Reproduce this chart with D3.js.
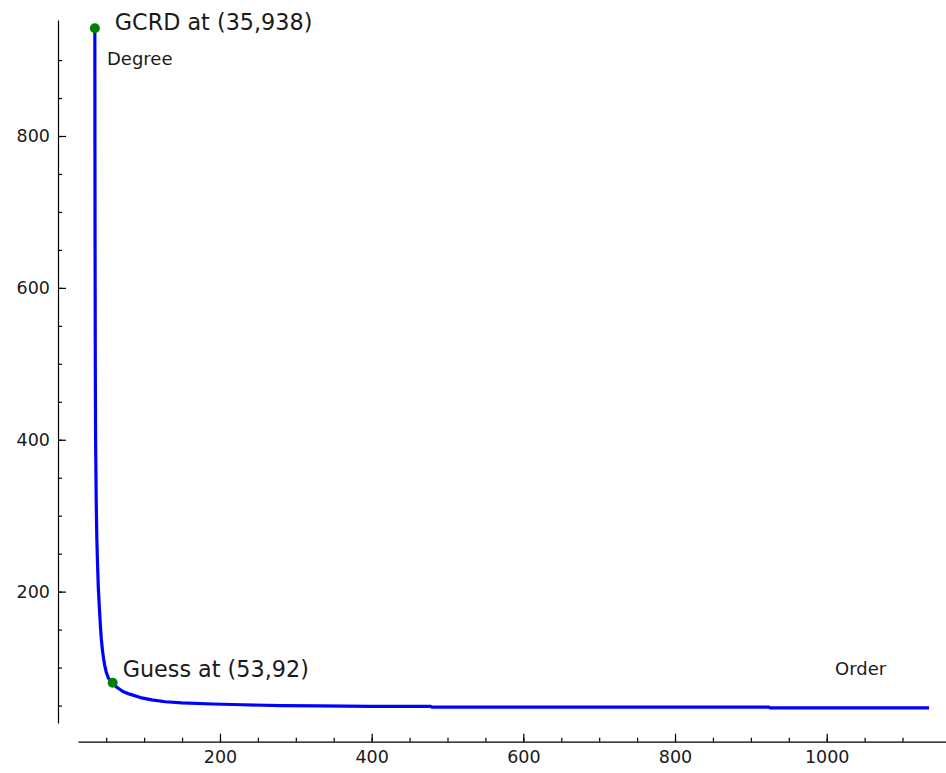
<!DOCTYPE html>
<html>
<head>
<meta charset="utf-8">
<script src="https://cdn.jsdelivr.net/npm/d3@7"></script>
<style>
  body { margin: 0; background: #fff; }
  svg text { font-family: "DejaVu Sans", sans-serif; fill: #1a1a1a; }
</style>
</head>
<body>
<figure id="plot" style="margin:0"></figure>
<script>
// order vs degree
const orders  = [35, 35.1, 35.3, 35.6, 36, 36.8, 37.6, 38.6, 39.6, 40.9, 42.2, 43.5, 45, 46.5, 48, 50, 53, 58, 64, 72, 81, 95, 110, 128, 150, 190, 230, 280, 330, 400, 478, 479, 924, 925, 1135];
const degrees = [942, 800, 650, 500, 400, 320, 270, 235, 205, 180, 157, 138, 123, 112, 103, 94, 86, 80, 74, 68.5, 65, 60.5, 57.5, 55, 53.5, 52, 51, 50, 49.5, 49, 49, 48, 48, 47, 47];

const markOrders  = [35, 58.5];
const markDegrees = [942, 80];
const markLabels  = ["GCRD at (35,938)", "Guess at (53,92)"];

const xMajor = [200, 400, 600, 800, 1000];
const xMinor = d3.range(50, 1101, 50);
const yMajor = [200, 400, 600, 800];
const yMinor = d3.range(50, 901, 50);

const width = 946, height = 773;
const labelShift = [[20, 2], [10, -6]];

const svg = d3.select("figure#plot")
  .append("svg")
  .attr("width", width)
  .attr("height", height);

const x = d3.scaleLinear().domain([0, 1000]).range([68.3, 826.7]);
const y = d3.scaleLinear().domain([0, 800]).range([743.5, 136]);

// axis scales: same mapping, trimmed to where the spines are drawn
const xAxisScale = x.copy().domain([x.invert(78), x.invert(946)]).range([78, 946]);
const yAxisScale = y.copy().domain([y.invert(723), y.invert(20)]).range([723, 20]);

// x axis
const gx = svg.append("g").attr("transform", "translate(0,741.7)");
gx.append("g")
  .call(d3.axisBottom(xAxisScale).tickValues(xMinor).tickFormat("").tickSizeInner(-4).tickSizeOuter(0))
  .call(g => g.select(".domain").remove());
gx.append("g")
  .call(d3.axisBottom(xAxisScale).tickValues(xMajor).tickFormat(d3.format("d")).tickSizeInner(-8).tickSizeOuter(0))
  .call(g => g.selectAll("text").attr("y", 21.6).attr("dy", 0).style("font-size", "17.5px"));

// y axis
const gy = svg.append("g").attr("transform", "translate(58,0)");
gy.append("g")
  .call(d3.axisLeft(yAxisScale).tickValues(yMinor).tickFormat("").tickSizeInner(-4).tickSizeOuter(0))
  .call(g => g.select(".domain").remove());
gy.append("g")
  .call(d3.axisLeft(yAxisScale).tickValues(yMajor).tickFormat(d3.format("d")).tickSizeInner(-8).tickSizeOuter(0).tickPadding(8))
  .call(g => g.selectAll("text").style("font-size", "17.5px"));

svg.selectAll(".domain, .tick line").attr("stroke", "#000").attr("stroke-width", 1.2);

// axis labels
svg.append("text").attr("x", 107).attr("y", 65).style("font-size", "18px").text("Degree");
svg.append("text").attr("x", 835).attr("y", 675).style("font-size", "18px").text("Order");

// curve
const line = d3.line()
  .x((d, i) => x(orders[i]))
  .y((d, i) => y(degrees[i]));

svg.append("path")
  .datum(orders)
  .attr("d", line)
  .attr("fill", "none")
  .attr("stroke", "#0000ff")
  .attr("stroke-width", 3.2)
  .attr("stroke-linejoin", "round");

// marked points
svg.selectAll("circle.mark")
  .data(markOrders)
  .enter()
  .append("circle")
  .attr("class", "mark")
  .attr("cx", d => x(d))
  .attr("cy", (d, i) => y(markDegrees[i]))
  .attr("r", 5)
  .attr("fill", "#008000");

svg.selectAll("text.mark")
  .data(markOrders)
  .enter()
  .append("text")
  .attr("class", "mark")
  .attr("x", (d, i) => x(d) + labelShift[i][0])
  .attr("y", (d, i) => y(markDegrees[i]) + labelShift[i][1])
  .style("font-size", "22.3px")
  .text((d, i) => markLabels[i]);
</script>
</body>
</html>
